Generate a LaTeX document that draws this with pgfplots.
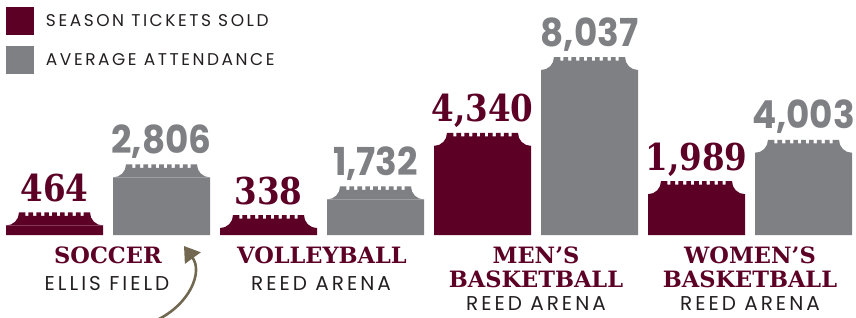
\documentclass[border=0pt]{standalone}
\usepackage{pgfplots}
\pgfplotsset{compat=1.18}
\usepackage{fontspec}
\usetikzlibrary{arrows.meta}
\setmainfont{Poppins}[LetterSpace=15]
\newfontfamily\gsans{Poppins}[UprightFont=* Bold, FakeStretch=0.93]
\newfontfamily\slab{DejaVu Serif}[UprightFont=* Bold, FakeStretch=0.88]
\newfontfamily\slabw{DejaVu Serif}[UprightFont=* Bold]
\definecolor{maroon}{HTML}{5C0025}
\definecolor{tgray}{HTML}{7F8084}
\definecolor{txt}{HTML}{231F20}
\definecolor{arrowc}{HTML}{726852}
\newcommand\notch[1]{%
 \pgfpathlineto{\pgfpoint{#1pt-1.6pt}{13pt}}%
 \pgfpathlineto{\pgfpoint{#1pt-1.6pt}{9.5pt}}%
 \pgfpathlineto{\pgfpoint{#1pt+1.6pt}{9.5pt}}%
 \pgfpathlineto{\pgfpoint{#1pt+1.6pt}{13pt}}}
\pgfdeclareplotmark{ticket}{%
 \pgfpathmoveto{\pgfpoint{-48.5pt}{0pt}}%
 \pgfpatharc{-90}{0}{13pt}%
 \notch{-27.61}\notch{-19.72}\notch{-11.83}\notch{-3.94}%
 \notch{3.94}\notch{11.83}\notch{19.72}\notch{27.61}%
 \pgfpathlineto{\pgfpoint{35.5pt}{13pt}}%
 \pgfpatharc{180}{270}{13pt}%
 \pgfpathclose
 \pgfusepath{fill}}
\begin{document}
\begin{tikzpicture}
\begin{axis}[
  scale only axis, width=856pt, height=317pt,
  xmin=-0.50935, xmax=7.49065, ymin=-3994, ymax=11447,
  hide axis, clip=false,
  legend style={at={(rel axis cs:{6/856},{1-7/317})}, anchor=north west,
    draw=none, fill=none, inner sep=0pt, outer sep=0pt, row sep=11pt,
    font=\fontsize{17}{20}\selectfont\color{txt},
    nodes={inner sep=0pt, anchor=base west}},
  legend cell align=left,
]
\addplot[ybar, bar width=97pt, bar shift=0pt, fill=maroon, draw=none,
  point meta=y, nodes near coords={\pgfmathprintnumber[1000 sep={,}, assume math mode=true]{\pgfplotspointmeta}},
  every node near coord/.append style={font=\slab\fontsize{37}{40}\selectfont, text=maroon, anchor=base, yshift=24pt},
  legend image code/.code={\fill[maroon] (0pt,-8pt) rectangle (28pt,20pt); \path (40pt,0pt);}]
  coordinates {(0,464) (2,338) (4,4340) (6,1989)};
\addlegendentry{SEASON TICKETS SOLD}
\addplot[ybar, bar width=97pt, bar shift=0pt, fill=tgray, draw=none,
  point meta=y, nodes near coords={\pgfmathprintnumber[1000 sep={,}, assume math mode=true]{\pgfplotspointmeta}},
  every node near coord/.append style={font=\gsans\fontsize{38.5}{40}\selectfont, text=tgray, anchor=base, yshift=24pt},
  legend image code/.code={\fill[tgray] (0pt,-8pt) rectangle (28pt,20pt); \path (40pt,0pt);}]
  coordinates {(1,2806) (3,1732) (5,8037) (7,4003)};
\addlegendentry{AVERAGE ATTENDANCE}
\addplot[only marks, mark=ticket, mark options={fill=maroon, draw=none}, forget plot]
  coordinates {(0,464) (2,338) (4,4340) (6,1989)};
\addplot[only marks, mark=ticket, mark options={fill=tgray, draw=none}, forget plot]
  coordinates {(1,2806) (3,1732) (5,8037) (7,4003)};
% category labels
\begin{scope}[every node/.style={anchor=base, inner sep=0pt}]
\node[font=\slabw\fontsize{22.5}{24}\selectfont, text=maroon] at (rel axis cs:{108/856},{1-264/317}) {SOCCER};
\node[font=\fontsize{20}{24}\selectfont, text=txt] at (rel axis cs:{107/856},{1-290/317}) {ELLIS FIELD};
\node[font=\slabw\fontsize{22.5}{24}\selectfont, text=maroon] at (rel axis cs:{322/856},{1-264/317}) {VOLLEYBALL};
\node[font=\fontsize{20}{24}\selectfont, text=txt] at (rel axis cs:{321/856},{1-290/317}) {REED ARENA};
\node[font=\slabw\fontsize{22.5}{24}\selectfont, text=maroon] at (rel axis cs:{536/856},{1-263/317}) {MEN’S};
\node[font=\slabw\fontsize{22.5}{24}\selectfont, text=maroon] at (rel axis cs:{536/856},{1-287/317}) {BASKETBALL};
\node[font=\fontsize{20}{24}\selectfont, text=txt] at (rel axis cs:{536/856},{1-310/317}) {REED ARENA};
\node[font=\slabw\fontsize{22.5}{24}\selectfont, text=maroon] at (rel axis cs:{750/856},{1-263/317}) {WOMEN’S};
\node[font=\slabw\fontsize{22.5}{24}\selectfont, text=maroon] at (rel axis cs:{750/856},{1-287/317}) {BASKETBALL};
\node[font=\fontsize{20}{24}\selectfont, text=txt] at (rel axis cs:{750/856},{1-310/317}) {REED ARENA};
\end{scope}
\draw[arrowc, line width=2.6pt, -{Triangle[width=19pt, length=15pt]}]
  (rel axis cs:{157/856},{1-320/317}) .. controls (rel axis cs:{190/856},{1-304/317}) and (rel axis cs:{203/856},{1-272/317}) .. (rel axis cs:{184/856},{1-246/317});
\end{axis}
\pgfresetboundingbox
\path[use as bounding box] (0,0) rectangle (856pt,317pt);
\end{tikzpicture}
\end{document}
